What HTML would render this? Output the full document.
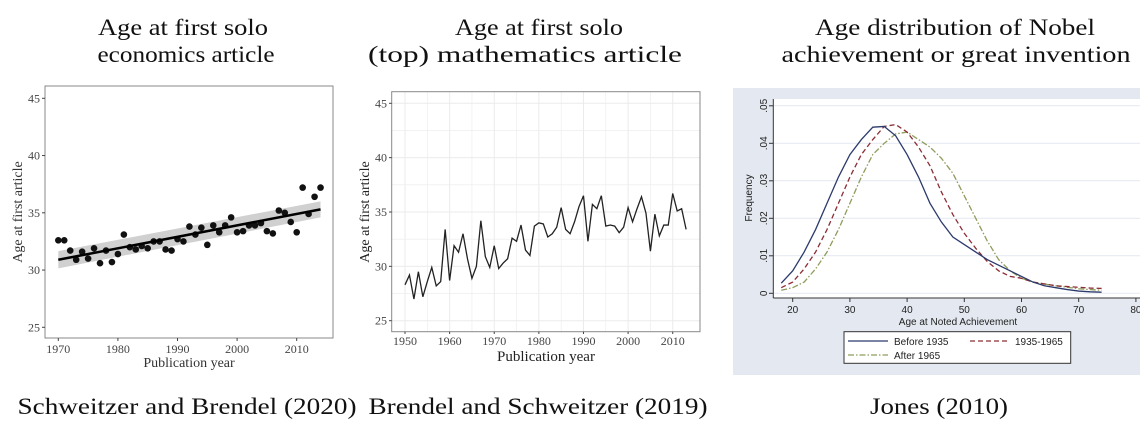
<!DOCTYPE html>
<html><head><meta charset="utf-8"><style>
body{margin:0;background:#fff}
svg{display:block;font-family:"Liberation Serif",serif}
.t{font-size:23px;fill:#111;text-anchor:middle}
.tk{font-size:12px;fill:#444}
.sk{font-family:"Liberation Sans",sans-serif;font-size:10px;fill:#222}
</style></head><body>
<svg id="s" width="1140" height="441" viewBox="0 0 1140 441" xmlns="http://www.w3.org/2000/svg">
<g>
<text class="t" x="183" y="35" textLength="170" lengthAdjust="spacingAndGlyphs">Age at first solo</text>
<text class="t" x="186" y="62" textLength="177" lengthAdjust="spacingAndGlyphs">economics article</text>
<text class="t" x="539" y="35" textLength="168" lengthAdjust="spacingAndGlyphs">Age at first solo</text>
<text class="t" x="525" y="62" textLength="314" lengthAdjust="spacingAndGlyphs">(top) mathematics article</text>
<text class="t" x="955" y="35" textLength="280" lengthAdjust="spacingAndGlyphs">Age distribution of Nobel</text>
<text class="t" x="956" y="62" textLength="349" lengthAdjust="spacingAndGlyphs">achievement or great invention</text>
<text class="t" x="187" y="414" textLength="339" lengthAdjust="spacingAndGlyphs">Schweitzer and Brendel (2020)</text>
<text class="t" x="538" y="414" textLength="339" lengthAdjust="spacingAndGlyphs">Brendel and Schweitzer (2019)</text>
<text class="t" x="939" y="414" textLength="138" lengthAdjust="spacingAndGlyphs">Jones (2010)</text>
</g>
<g id="p1"></g>
<g id="p2"></g>
<g id="p3"></g>
</svg>
<script>
const econYears=[1970,1971,1972,1973,1974,1975,1976,1977,1978,1979,1980,1981,1982,1983,1984,1985,1986,1987,1988,1989,1990,1991,1992,1993,1994,1995,1996,1997,1998,1999,2000,2001,2002,2003,2004,2005,2006,2007,2008,2009,2010,2011,2012,2013,2014];
const econAges=[32.6,32.6,31.7,30.9,31.6,31.0,31.9,30.6,31.7,30.7,31.4,33.1,32.0,31.8,32.1,31.9,32.5,32.5,31.8,31.7,32.7,32.5,33.8,33.1,33.7,32.2,33.9,33.3,33.9,34.6,33.3,33.4,33.9,33.9,34.1,33.4,33.2,35.2,35.0,34.2,33.3,37.2,34.9,36.4,37.2];
const econFit=[30.9,35.3];
const econYTicks=[25,30,35,40,45];
const econXTicks=[1970,1980,1990,2000,2010];
const mathYears=[];for(let y=1950;y<=2013;y++)mathYears.push(y);
const mathAges=[28.3,29.2,27.0,29.5,27.2,28.6,29.9,28.2,28.6,33.4,28.7,31.9,31.3,33.0,30.7,28.9,30.0,34.2,30.9,29.9,31.9,29.8,30.3,30.7,32.6,32.3,33.8,31.5,31.0,33.7,34.0,33.9,32.7,33.0,33.6,35.4,33.4,33.0,34.1,35.5,36.5,32.3,35.7,35.3,36.5,33.7,33.8,33.7,33.1,33.6,35.4,34.1,35.3,36.4,34.9,31.4,34.8,32.8,33.8,33.8,36.7,35.1,35.3,33.4];
const mathYTicks=[25,30,35,40,45];
const mathXTicks=[1950,1960,1970,1980,1990,2000,2010];
const nobelAges=[18,20,22,24,26,28,30,32,34,36,38,40,42,44,46,48,50,52,54,56,58,60,62,64,66,68,70,72,74];
const before1935=[.0027,.006,.011,.017,.024,.031,.037,.041,.0443,.0445,.042,.037,.031,.024,.019,.015,.013,.011,.009,.0075,.006,.0045,.003,.002,.0015,.001,.0006,.0004,.0003];
const mid1935=[.0015,.003,.0065,.011,.017,.024,.031,.037,.041,.0445,.045,.043,.039,.034,.027,.021,.016,.012,.0085,.006,.0045,.004,.003,.0025,.002,.0018,.0016,.0014,.0013];
const after1965=[.0008,.0015,.003,.0065,.011,.017,.024,.031,.037,.040,.0425,.043,.041,.039,.036,.032,.026,.020,.014,.009,.006,.004,.003,.0025,.002,.0016,.0012,.001,.0008];
const nobelYTicks=[0,.01,.02,.03,.04,.05];
const nobelYLabels=["0",".01",".02",".03",".04",".05"];
const nobelXTicks=[20,30,40,50,60,70,80];
const NS="http://www.w3.org/2000/svg";
function mk(p,t,a,txt){const e=document.createElementNS(NS,t);for(const k in a)e.setAttribute(k,a[k]);if(txt!==undefined)e.textContent=txt;p.appendChild(e);return e;}

// Panel 1
(function(){
const g=document.getElementById('p1');
const x=v=>58.3+(v-1970)*5.96, y=v=>327.3-(v-25)*11.45;
let e=mk(g,'rect',{x:45,y:86,width:288,height:252,fill:'#fff',stroke:'#888','stroke-width':1});

econYTicks.forEach(t=>{mk(g,'line',{x1:42,x2:45,y1:y(t),y2:y(t),stroke:'#444'});
 e=mk(g,'text',{x:40,y:y(t)+4,'text-anchor':'end',class:'tk'},t);});
econXTicks.forEach(t=>{mk(g,'line',{x1:x(t),x2:x(t),y1:338,y2:341,stroke:'#444'});
 e=mk(g,'text',{x:x(t),y:353,'text-anchor':'middle',class:'tk'},t);});
e=mk(g,'text',{x:189,y:367,'text-anchor':'middle','font-size':14,fill:'#333'},'Publication year');
e=mk(g,'text',{x:0,y:0,transform:'translate(22,212) rotate(-90)','text-anchor':'middle','font-size':14,fill:'#333'},'Age at first article');
const x0=econYears[0],x1=econYears[econYears.length-1];
e=mk(g,'polygon',{points:`${x(x0)},${y(econFit[0]+0.75)} ${x(x1)},${y(econFit[1]+0.7)} ${x(x1)},${y(econFit[1]-0.7)} ${x(x0)},${y(econFit[0]-0.75)}`,fill:'#d0d0d0'});

econYears.forEach((yr,i)=>{e=mk(g,'circle',{cx:x(yr),cy:y(econAges[i]),r:3.3,fill:'#111'});});
e=mk(g,'line',{x1:x(x0),y1:y(econFit[0]),x2:x(x1),y2:y(econFit[1]),stroke:'#000','stroke-width':2.5});

})();

// Panel 2
(function(){
const g=document.getElementById('p2');
const x=v=>405+(v-1950)*4.462, y=v=>320.7-(v-25)*10.87;
let e=mk(g,'rect',{x:391.7,y:91.7,width:308.3,height:240,fill:'#fff'});

for(let v=25;v<=45;v+=2.5)mk(g,'line',{x1:391.7,x2:700,y1:y(v),y2:y(v),stroke:'#ebebeb','stroke-width':v%5?0.6:1});
for(let v=1950;v<=2010;v+=5)mk(g,'line',{x1:x(v),x2:x(v),y1:91.7,y2:331.7,stroke:'#ebebeb','stroke-width':v%10?0.6:1});
mk(g,'rect',{x:391.7,y:91.7,width:308.3,height:240,fill:'none',stroke:'#888'});
mathYTicks.forEach(t=>{mk(g,'line',{x1:389,x2:391.7,y1:y(t),y2:y(t),stroke:'#444'});
 e=mk(g,'text',{x:387,y:y(t)+4,'text-anchor':'end',class:'tk',fill:'#555'},t);});
mathXTicks.forEach(t=>{mk(g,'line',{x1:x(t),x2:x(t),y1:331.7,y2:334,stroke:'#444'});
 e=mk(g,'text',{x:x(t),y:345,'text-anchor':'middle',class:'tk'},t);});
e=mk(g,'text',{x:546,y:361,'text-anchor':'middle','font-size':15,fill:'#222'},'Publication year');
e=mk(g,'text',{x:0,y:0,transform:'translate(369,212) rotate(-90)','text-anchor':'middle','font-size':14,fill:'#222'},'Age at first article');
e=mk(g,'polyline',{points:mathYears.map((yr,i)=>x(yr)+','+y(mathAges[i])).join(' '),fill:'none',stroke:'#222','stroke-width':1.3});

})();

// Panel 3
(function(){
const g=document.getElementById('p3');
const x=v=>792.7+(v-20)*5.72, y=v=>293.3-v*3750;
let e=mk(g,'rect',{x:733,y:88,width:407,height:287,fill:'#e4e9f1'});

e=mk(g,'rect',{x:773.3,y:99,width:367,height:199,fill:'#fff'});

nobelYTicks.forEach((t,i)=>{mk(g,'line',{x1:773.3,x2:1140,y1:y(t),y2:y(t),stroke:'#e4e9f1','stroke-width':1});
 mk(g,'line',{x1:769,x2:773.3,y1:y(t),y2:y(t),stroke:'#333'});
 e=mk(g,'text',{x:0,y:0,transform:`translate(767,${y(t)}) rotate(-90)`,'text-anchor':'middle',class:'sk'},nobelYLabels[i]);});
mk(g,'line',{x1:773.3,x2:773.3,y1:99,y2:298,stroke:'#333'});
mk(g,'line',{x1:773.3,x2:1140,y1:298,y2:298,stroke:'#333'});
nobelXTicks.forEach(t=>{mk(g,'line',{x1:x(t),x2:x(t),y1:298,y2:302,stroke:'#333'});
 e=mk(g,'text',{x:x(t),y:313,'text-anchor':'middle',class:'sk'},t);});
e=mk(g,'text',{x:958,y:325,'text-anchor':'middle',class:'sk'},'Age at Noted Achievement');
e=mk(g,'text',{x:0,y:0,transform:'translate(752,198) rotate(-90)','text-anchor':'middle',class:'sk'},'Frequency');
const series=[[after1965,'#8e9d5c','6,2,1.5,2','nobel-after-1965-line'],[mid1935,'#8c2d35','5,3','nobel-1935-1965-line'],[before1935,'#2c3a6c','','nobel-before-1935-line']];
series.forEach(s=>{e=mk(g,'polyline',{points:nobelAges.map((a,i)=>x(a)+','+y(s[0][i])).join(' '),fill:'none',stroke:s[1],'stroke-width':1.3,'stroke-dasharray':s[2]});
 });
const lg=mk(g,'g',{});
mk(lg,'rect',{x:844,y:331.7,width:226.7,height:31.6,fill:'#fff',stroke:'#333'});
mk(lg,'line',{x1:848,x2:888,y1:341,y2:341,stroke:'#2c3a6c','stroke-width':1.3});
e=mk(lg,'text',{x:894,y:345,class:'sk'},'Before 1935');
mk(lg,'line',{x1:970,x2:1010,y1:341,y2:341,stroke:'#8c2d35','stroke-width':1.3,'stroke-dasharray':'5,3'});
e=mk(lg,'text',{x:1015,y:345,class:'sk'},'1935-1965');
mk(lg,'line',{x1:848,x2:888,y1:355,y2:355,stroke:'#8e9d5c','stroke-width':1.3,'stroke-dasharray':'6,2,1.5,2'});
e=mk(lg,'text',{x:894,y:359,class:'sk'},'After 1965');
})();
</script>
</body></html>
